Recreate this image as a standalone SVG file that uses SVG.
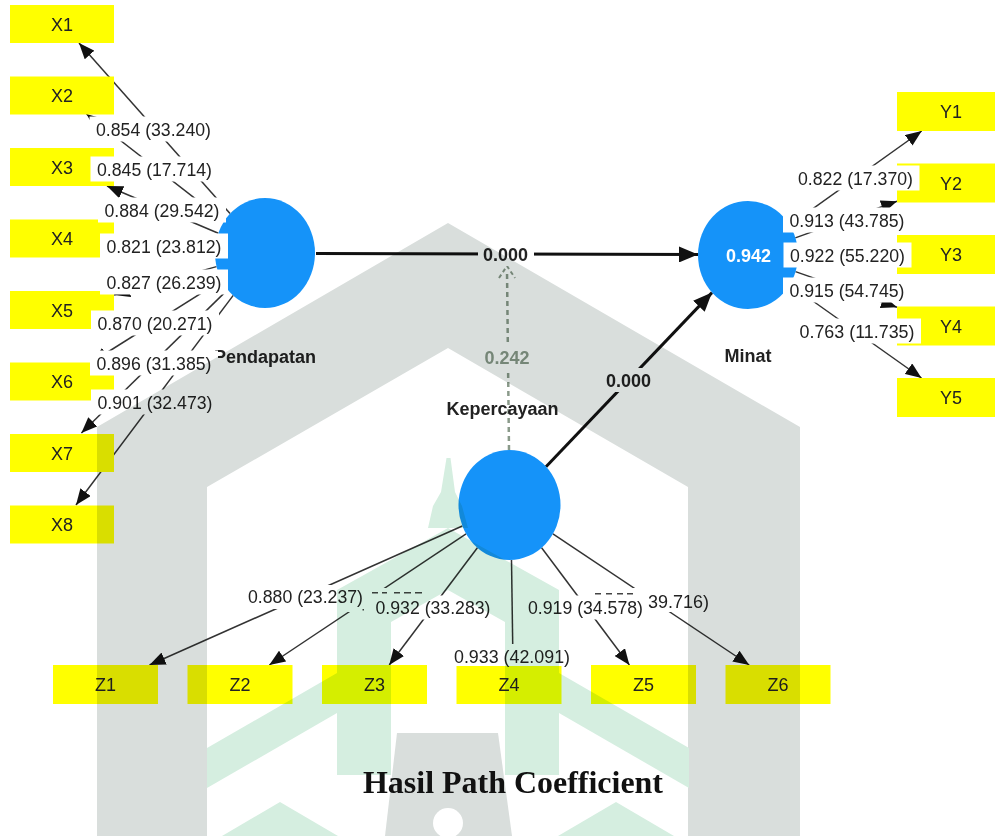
<svg xmlns="http://www.w3.org/2000/svg" width="995" height="836" viewBox="0 0 995 836">
<defs>
<style>
.box{fill:#ffff00}
.bt{font-family:"Liberation Sans",Arial,sans-serif;font-size:18px;fill:#222;text-anchor:middle}
.lv{fill:#1593f9}
.ln{stroke:#333;stroke-width:1.5;fill:none;marker-end:url(#ah)}
.pth{stroke:#111;stroke-width:3;fill:none;marker-end:url(#ahb)}
.lb{fill:#fff}
.lt{font-family:"Liberation Sans",Arial,sans-serif;font-size:18px;fill:#222;text-anchor:middle}
.nt{font-family:"Liberation Sans",Arial,sans-serif;font-size:18px;font-weight:bold;fill:#222;text-anchor:middle}
.gray{fill:#d9dedc}
.green{fill:#d5eee0}
</style>
<marker id="ah" markerUnits="userSpaceOnUse" markerWidth="16" markerHeight="13" refX="16" refY="6.5" orient="auto"><path d="M0,0 L16,6.5 L0,13 z" fill="#111"/></marker>
<marker id="ahb" markerUnits="userSpaceOnUse" markerWidth="19" markerHeight="16" refX="19" refY="8" orient="auto"><path d="M0,0 L19,8 L0,16 z" fill="#111"/></marker>
</defs>
<rect x="0" y="0" width="995" height="836" fill="#fff"/>

<g id="connectors">
<line class="pth" x1="316" y1="253.5" x2="698" y2="254.5"/>
<line class="pth" x1="546" y1="466.7" x2="712" y2="292.6"/>
<line x1="509" y1="450" x2="507" y2="270" stroke="#8a9a8a" stroke-width="2.5" fill="none" stroke-dasharray="5 4"/>
<path d="M499,278 L507,266 L515,278" stroke="#8a9a8a" stroke-width="2" fill="none" stroke-dasharray="4 3"/>
<line class="ln" x1="230" y1="213.6" x2="79" y2="43"/>
<line class="ln" x1="224.2" y1="221.2" x2="86.4" y2="114"/>
<line class="ln" x1="218.3" y1="233.2" x2="107" y2="186"/>
<line class="ln" x1="215.1" y1="249.3" x2="114" y2="242"/>
<line class="ln" x1="216.5" y1="266.6" x2="114" y2="295"/>
<line class="ln" x1="221.6" y1="280.4" x2="92" y2="362"/>
<line class="ln" x1="227.7" y1="289.6" x2="81.4" y2="433"/>
<line class="ln" x1="233.2" y1="295.4" x2="76" y2="505"/>
<line class="ln" x1="789.5" y1="225.4" x2="921.7" y2="131"/>
<line class="ln" x1="795.3" y1="237.9" x2="897" y2="201.3"/>
<line class="ln" x1="798" y1="255" x2="897" y2="255"/>
<line class="ln" x1="795.5" y1="271.6" x2="897" y2="307.3"/>
<line class="ln" x1="789.6" y1="284.5" x2="921.5" y2="378"/>
<line class="ln" x1="462.3" y1="526" x2="149.5" y2="665"/>
<line class="ln" x1="466.1" y1="533.9" x2="269.3" y2="665"/>
<line class="ln" x1="477.4" y1="547.7" x2="389.2" y2="665"/>
<line class="ln" x1="511.5" y1="560" x2="513" y2="665"/>
<line class="ln" x1="541.6" y1="547.8" x2="629.4" y2="665"/>
<line class="ln" x1="552.9" y1="533.9" x2="749.2" y2="665"/>
</g>

<g id="Pendapatan">
<ellipse class="lv" cx="265" cy="253" rx="50" ry="55"/>
<text class="nt" x="265" y="362.5">Pendapatan</text>
</g>
<g id="Minat">
<ellipse class="lv" cx="748" cy="255" rx="50" ry="54"/>
<text class="nt" x="748" y="361.5">Minat</text>
</g>
<g id="Kepercayaan">
<ellipse class="lv" cx="509.5" cy="505" rx="51" ry="55"/>
<text class="nt" x="502.5" y="415">Kepercayaan</text>
</g>

<g id="X1"><rect class="box" x="10" y="5" width="104" height="38"/><text class="bt" x="62" y="30.5">X1</text></g>
<g id="X2"><rect class="box" x="10" y="76.5" width="104" height="38"/><text class="bt" x="62" y="102">X2</text></g>
<g id="X3"><rect class="box" x="10" y="148" width="104" height="38"/><text class="bt" x="62" y="173.5">X3</text></g>
<g id="X4"><rect class="box" x="10" y="219.5" width="104" height="38"/><text class="bt" x="62" y="245">X4</text></g>
<g id="X5"><rect class="box" x="10" y="291" width="104" height="38"/><text class="bt" x="62" y="316.5">X5</text></g>
<g id="X6"><rect class="box" x="10" y="362.5" width="104" height="38"/><text class="bt" x="62" y="388">X6</text></g>
<g id="X7"><rect class="box" x="10" y="434" width="104" height="38"/><text class="bt" x="62" y="459.5">X7</text></g>
<g id="X8"><rect class="box" x="10" y="505.5" width="104" height="38"/><text class="bt" x="62" y="531">X8</text></g>

<g id="Y1"><rect class="box" x="897" y="92" width="104" height="39"/><text class="bt" x="951" y="118">Y1</text></g>
<g id="Y2"><rect class="box" x="897" y="163.5" width="104" height="39"/><text class="bt" x="951" y="189.5">Y2</text></g>
<g id="Y3"><rect class="box" x="897" y="235" width="104" height="39"/><text class="bt" x="951" y="261">Y3</text></g>
<g id="Y4"><rect class="box" x="897" y="306.5" width="104" height="39"/><text class="bt" x="951" y="332.5">Y4</text></g>
<g id="Y5"><rect class="box" x="897" y="378" width="104" height="39"/><text class="bt" x="951" y="404">Y5</text></g>

<g id="Z1"><rect class="box" x="53" y="665" width="105" height="39"/><text class="bt" x="105.5" y="691">Z1</text></g>
<g id="Z2"><rect class="box" x="187.5" y="665" width="105" height="39"/><text class="bt" x="240" y="691">Z2</text></g>
<g id="Z3"><rect class="box" x="322" y="665" width="105" height="39"/><text class="bt" x="374.5" y="691">Z3</text></g>
<g id="Z4"><rect class="box" x="456.5" y="665" width="105" height="39"/><text class="bt" x="509" y="691">Z4</text></g>
<g id="Z5"><rect class="box" x="591" y="665" width="105" height="39"/><text class="bt" x="643.5" y="691">Z5</text></g>
<g id="Z6"><rect class="box" x="725.5" y="665" width="105" height="39"/><text class="bt" x="778" y="691">Z6</text></g>

<g id="labels">
<rect class="lb" x="478" y="242" width="56" height="24"/>
<text class="nt" x="505.5" y="260.5">0.000</text>
<rect class="lb" x="601" y="368" width="56" height="24"/>
<text class="nt" x="628.5" y="386.5">0.000</text>
<rect class="lb" x="480" y="345" width="54" height="24"/>
<text class="nt" x="507" y="363.5" style="fill:#8a9a8a">0.242</text>
<text class="nt" x="748.5" y="261.5" style="fill:#fff">0.942</text>

<rect class="lb" x="89.5" y="116.5" width="128" height="25"/><text class="lt" x="153.5" y="135.5" textLength="115" lengthAdjust="spacingAndGlyphs">0.854 (33.240)</text>
<rect class="lb" x="90.5" y="156.5" width="128" height="25"/><text class="lt" x="154.5" y="175.5" textLength="115" lengthAdjust="spacingAndGlyphs">0.845 (17.714)</text>
<rect class="lb" x="98" y="197.5" width="128" height="25"/><text class="lt" x="162" y="216.5" textLength="115" lengthAdjust="spacingAndGlyphs">0.884 (29.542)</text>
<rect class="lb" x="100" y="233.5" width="128" height="25"/><text class="lt" x="164" y="252.5" textLength="115" lengthAdjust="spacingAndGlyphs">0.821 (23.812)</text>
<rect class="lb" x="100" y="269.5" width="128" height="25"/><text class="lt" x="164" y="288.5" textLength="115" lengthAdjust="spacingAndGlyphs">0.827 (26.239)</text>
<rect class="lb" x="91" y="310.5" width="128" height="25"/><text class="lt" x="155" y="329.5" textLength="115" lengthAdjust="spacingAndGlyphs">0.870 (20.271)</text>
<rect class="lb" x="90" y="350.5" width="128" height="25"/><text class="lt" x="154" y="369.5" textLength="115" lengthAdjust="spacingAndGlyphs">0.896 (31.385)</text>
<rect class="lb" x="91" y="389.5" width="128" height="25"/><text class="lt" x="155" y="408.5" textLength="115" lengthAdjust="spacingAndGlyphs">0.901 (32.473)</text>

<rect class="lb" x="791.5" y="165.5" width="128" height="25"/><text class="lt" x="855.5" y="184.5" textLength="115" lengthAdjust="spacingAndGlyphs">0.822 (17.370)</text>
<rect class="lb" x="783" y="207.5" width="128" height="25"/><text class="lt" x="847" y="226.5" textLength="115" lengthAdjust="spacingAndGlyphs">0.913 (43.785)</text>
<rect class="lb" x="783.5" y="242.5" width="128" height="25"/><text class="lt" x="847.5" y="261.5" textLength="115" lengthAdjust="spacingAndGlyphs">0.922 (55.220)</text>
<rect class="lb" x="783" y="277.5" width="128" height="25"/><text class="lt" x="847" y="296.5" textLength="115" lengthAdjust="spacingAndGlyphs">0.915 (54.745)</text>
<rect class="lb" x="793" y="318.5" width="128" height="25"/><text class="lt" x="857" y="337.5" textLength="115" lengthAdjust="spacingAndGlyphs">0.763 (11.735)</text>

<rect class="lb" x="310" y="588" width="116" height="24"/>
<rect class="lb" x="590" y="588" width="122" height="24"/>
<g fill="#444">
<rect x="372" y="592" width="6" height="1.5"/><rect x="382" y="592" width="5" height="1.5"/><rect x="394" y="592" width="6" height="1.5"/><rect x="404" y="592" width="7" height="1.5"/><rect x="415" y="592" width="7" height="1.5"/>
<rect x="362.5" y="609" width="1.5" height="1.5"/>
<rect x="595" y="593" width="6" height="1.5"/><rect x="606" y="593" width="6" height="1.5"/><rect x="617" y="593" width="6" height="1.5"/><rect x="627" y="593" width="6" height="1.5"/>
</g>
<rect class="lb" x="242" y="585" width="126" height="24"/><text class="lt" x="305.5" y="603" textLength="115" lengthAdjust="spacingAndGlyphs">0.880 (23.237)</text>
<rect class="lb" x="370" y="595.5" width="126" height="24"/><text class="lt" x="433" y="613.5" textLength="115" lengthAdjust="spacingAndGlyphs">0.932 (33.283)</text>
<rect class="lb" x="449" y="644" width="126" height="22"/><text class="lt" x="512" y="662.5" textLength="116" lengthAdjust="spacingAndGlyphs">0.933 (42.091)</text>
<text class="lt" x="709" y="607.5" style="text-anchor:end" textLength="61" lengthAdjust="spacingAndGlyphs">39.716)</text>
<rect class="lb" x="522.5" y="595.5" width="126" height="24"/><text class="lt" x="585.5" y="613.5" textLength="115" lengthAdjust="spacingAndGlyphs">0.919 (34.578)</text>
</g>

<g id="watermark" style="mix-blend-mode:multiply">
<path class="gray" fill-rule="evenodd" d="M97,836 L97,427 L448,223 L800,427 L800,836 Z M207,836 L688,836 L688,487 L448,348 L207,487 Z"/>
<path class="gray" d="M397,733 L498,733 L512,836 L385,836 Z"/>
<path class="green" d="M446.5,458 L450.5,458 L455,492 L462,506 L468,528 L428,528 L433,506 L441,492 Z"/>
<path class="green" d="M337,775 L337,590 L448,528 L559,590 L559,775 L505,775 L505,622 L448,590 L391,622 L391,775 Z"/>
<path class="green" d="M207,748 L337,673 L337,713 L207,788 Z"/>
<path class="green" d="M689,748 L559,673 L559,713 L689,788 Z"/>
<path class="green" d="M222,836 L280,802 L338,836 Z"/>
<path class="green" d="M558,836 L616,802 L674,836 Z"/>
</g>
<circle cx="448" cy="823" r="15" fill="#fff"/>

<text x="513" y="793" font-family="'Liberation Serif','Times New Roman',serif" font-size="31" font-weight="bold" text-anchor="middle" fill="#111" textLength="300" lengthAdjust="spacingAndGlyphs">Hasil Path Coefficient</text>
</svg>
